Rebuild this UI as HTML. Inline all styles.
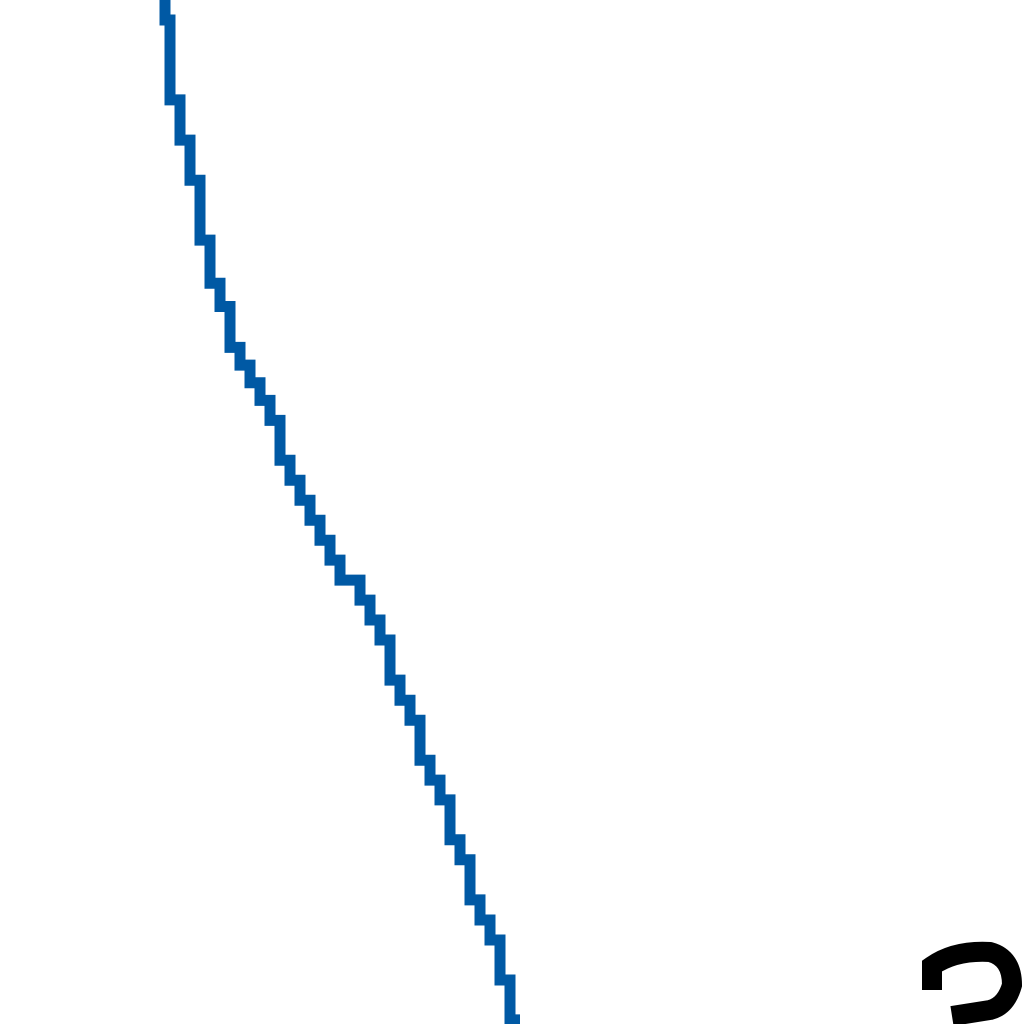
<!DOCTYPE html>
<html><head><meta charset="utf-8"><style>
html,body{margin:0;padding:0;background:#fff;width:1024px;height:1024px;overflow:hidden}
svg{display:block}
</style></head><body>
<svg id="chart" width="1024" height="1024" viewBox="0 0 1024 1024" xmlns="http://www.w3.org/2000/svg">
<path d="M932,990 V966 Q955,950 990,952 Q1012,958 1012,985 Q1006,1006 990,1010 L952,1016" fill="none" stroke="#000" stroke-width="20"/>
</svg>
<script>
const xValues = [0, 0.028, 0.085, 0.127, 0.197, 0.282, 0.394, 0.507, 0.620, 0.732, 0.831, 0.930, 1.0];
const yValues = [1, 0.922, 0.824, 0.746, 0.678, 0.609, 0.531, 0.453, 0.375, 0.277, 0.180, 0.082, 0.004];
const xDomain = [0, 1], yDomain = [0, 1];
function sx(v){ return 165 + (v - xDomain[0]) / (xDomain[1] - xDomain[0]) * 355; }
function sy(v){ return 1024 - (v - yDomain[0]) / (yDomain[1] - yDomain[0]) * 1024; }
const svg = document.getElementById('chart');
const ns = 'http://www.w3.org/2000/svg';
let d = '';
const step = 10;
for (let i = 0; i < xValues.length; i++) {
  const x = sx(xValues[i]), y = sy(yValues[i]);
  if (i === 0) { d += 'M' + x + ',' + y; continue; }
  const px = sx(xValues[i-1]), py = sy(yValues[i-1]);
  const n = Math.max(1, Math.round((y - py) / (step*2)));
  for (let k = 1; k <= n; k++) {
    const yy = py + (y - py) * k / n;
    const xx = Math.round((px + (x - px) * k / n) / step) * step;
    d += ' V' + yy.toFixed(1) + ' H' + xx;
  }
}
const line = document.createElementNS(ns, 'path');


line.setAttribute('d', d);
line.setAttribute('fill', 'none');
line.setAttribute('stroke', '#0059a4');
line.setAttribute('stroke-width', '11');
svg.appendChild(line);
</script>
</body></html>
